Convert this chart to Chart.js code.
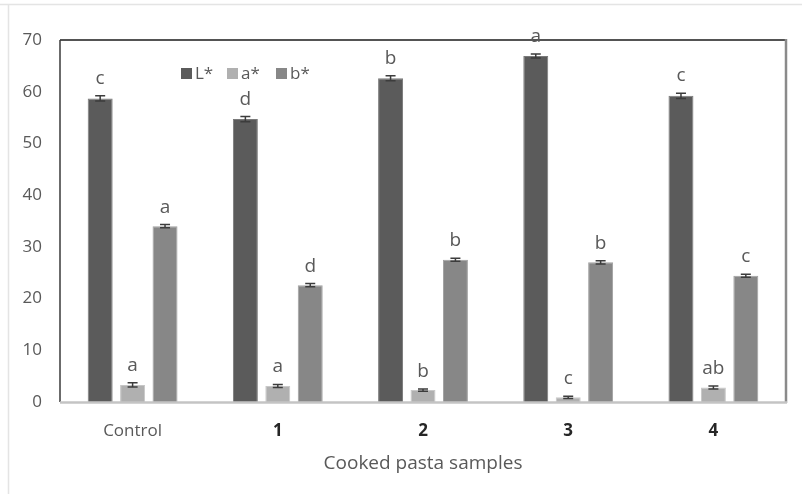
<!DOCTYPE html>
<html>
<head>
<meta charset="utf-8">
<script src="https://cdn.jsdelivr.net/npm/chart.js@4/dist/chart.umd.min.js"></script>
<style>
  html, body { margin: 0; padding: 0; background: #ffffff; }
  #wrap { width: 802px; height: 494px; position: relative; }
</style>
</head>
<body>
<div id="wrap"><canvas id="chart" width="802" height="494"></canvas></div>
<script>
// Colour parameters of cooked pasta samples
const categories = ['Control', '1', '2', '3', '4'];
const seriesNames = ['L*', 'a*', 'b*'];
const lValues = [58.7, 54.7, 62.6, 66.9, 59.2];
const aValues = [3.3, 3.1, 2.3, 0.9, 2.8];
const bValues = [34.0, 22.6, 27.5, 27.0, 24.4];
const lErrors = [0.5, 0.5, 0.5, 0.4, 0.5];
const aErrors = [0.4, 0.3, 0.2, 0.2, 0.3];
const bErrors = [0.3, 0.3, 0.3, 0.3, 0.3];
const lLetters = ['c', 'd', 'b', 'a', 'c'];
const aLetters = ['a', 'a', 'b', 'c', 'ab'];
const bLetters = ['a', 'd', 'b', 'b', 'c'];
const yTicks = [0, 10, 20, 30, 40, 50, 60, 70];

const FONT = "'Open Sans', 'Liberation Sans', sans-serif";
const TEXT = '#595959';

const errorsBySeries = [lErrors, aErrors, bErrors];
const lettersBySeries = [lLetters, aLetters, bLetters];

// Frame, error bars, letters and the in-plot legend
const decorations = {
  id: 'decorations',
  beforeDraw(chart) {
    const c = chart.ctx;
    c.save();
    c.fillStyle = '#ffffff';
    c.fillRect(0, 0, chart.width, chart.height);
    c.strokeStyle = '#e4e4e4';
    c.lineWidth = 1.5;
    c.beginPath();
    c.moveTo(0, 4.5); c.lineTo(chart.width, 4.5);
    c.moveTo(8.5, 4.5); c.lineTo(8.5, chart.height);
    c.stroke();
    c.restore();
  },
  afterDatasetsDraw(chart) {
    const c = chart.ctx;
    const y = chart.scales.y;
    const a = chart.chartArea;
    c.save();
    // plot frame
    c.lineWidth = 1.5;
    c.strokeStyle = '#1a1a1a';
    c.beginPath(); c.moveTo(a.left, a.top); c.lineTo(a.right, a.top); c.stroke();
    c.strokeStyle = '#3a3a3a';
    c.beginPath(); c.moveTo(a.left, a.top); c.lineTo(a.left, a.bottom); c.stroke();
    c.lineWidth = 2.5;
    c.strokeStyle = '#8a8a8a';
    c.beginPath(); c.moveTo(a.right, a.top - 1); c.lineTo(a.right, a.bottom + 1); c.stroke();
    c.strokeStyle = '#c4c4c4';
    c.beginPath(); c.moveTo(a.left, a.bottom + 0.5); c.lineTo(a.right + 1, a.bottom + 0.5); c.stroke();

    chart.data.datasets.forEach((ds, di) => {
      const meta = chart.getDatasetMeta(di);
      meta.data.forEach((bar, i) => {
        const v = ds.data[i];
        const e = errorsBySeries[di][i];
        const yHi = y.getPixelForValue(v + e);
        const yLo = y.getPixelForValue(v - e);
        c.strokeStyle = '#3c3c3c';
        c.lineWidth = 1.5;
        c.beginPath();
        c.moveTo(bar.x, yLo); c.lineTo(bar.x, yHi);
        c.moveTo(bar.x - 5, yHi); c.lineTo(bar.x + 5, yHi);
        c.moveTo(bar.x - 5, yLo); c.lineTo(bar.x + 5, yLo);
        c.stroke();
        c.fillStyle = TEXT;
        c.font = '19px ' + FONT;
        c.textAlign = 'center';
        c.textBaseline = 'alphabetic';
        c.fillText(lettersBySeries[di][i], bar.x, yHi - 12);
      });
    });

    // legend inside the plot
    const items = [{ x: 181 }, { x: 227 }, { x: 276 }];
    c.font = '17px ' + FONT;
    c.textAlign = 'left';
    c.textBaseline = 'middle';
    items.forEach((it, di) => {
      c.fillStyle = chart.data.datasets[di].backgroundColor;
      c.fillRect(it.x, 68, 11, 11);
      c.fillStyle = TEXT;
      c.fillText(seriesNames[di], it.x + 14, 74);
    });
    c.restore();
  }
};

new Chart(document.getElementById('chart'), {
  type: 'bar',
  data: {
    labels: categories,
    datasets: [
      { label: seriesNames[0], data: lValues, backgroundColor: '#5b5b5b', borderColor: '#7a7a7a', borderWidth: 1 },
      { label: seriesNames[1], data: aValues, backgroundColor: '#b0b0b0', borderColor: '#c8c8c8', borderWidth: 1 },
      { label: seriesNames[2], data: bValues, backgroundColor: '#878787', borderColor: '#a0a0a0', borderWidth: 1 }
    ]
  },
  options: {
    responsive: false,
    animation: false,
    devicePixelRatio: 1,
    layout: { padding: { left: 0, top: 40, right: 16, bottom: 0 } },
    datasets: { bar: { categoryPercentage: 0.67, barPercentage: 0.77 } },
    plugins: { legend: { display: false }, tooltip: { enabled: false } },
    scales: {
      x: {
        grid: { display: false, drawTicks: false },
        border: { display: false },
        ticks: {
          padding: 19,
          color: (ctx) => ctx.index > 0 ? '#262626' : TEXT,
          font: (ctx) => ({ family: FONT, size: 17, weight: ctx.index > 0 ? 'bold' : 'normal' })
        },
        title: {
          display: true,
          text: 'Cooked pasta samples',
          color: TEXT,
          font: { family: FONT, size: 19 },
          padding: { top: 4, bottom: 19 }
        },
        afterFit(scale) { scale.height = 92; }
      },
      y: {
        min: 0,
        max: 70,
        grid: { display: false, drawTicks: false },
        border: { display: false },
        afterBuildTicks(scale) { scale.ticks = yTicks.map(v => ({ value: v })); },
        ticks: {
          padding: 18,
          color: TEXT,
          font: { family: FONT, size: 17 }
        },
        afterFit(scale) { scale.width = 60; }
      }
    }
  },
  plugins: [decorations]
});
</script>
</body>
</html>
